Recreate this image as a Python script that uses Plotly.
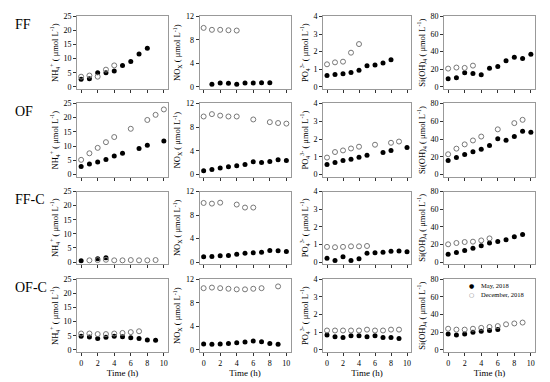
import plotly.graph_objects as go
from plotly.subplots import make_subplots

# ---------------- data ----------------
row_labels = ["FF", "OF", "FF-C", "OF-C"]
x_ticks = [0, 2, 4, 6, 8, 10]

# FF
ff_nh4_may_t = [0, 1, 2, 3, 4, 5, 6, 7, 8]
ff_nh4_may = [2.7, 2.9, 5.0, 5.0, 5.6, 7.6, 9.0, 11.7, 13.7]
ff_nh4_dec_t = [0, 1, 2, 3, 4]
ff_nh4_dec = [3.6, 4.0, 3.6, 6.1, 7.6]
ff_nox_may_t = [1, 2, 3, 4, 5, 6, 7, 8]
ff_nox_may = [0.45, 0.65, 0.6, 0.45, 0.65, 0.65, 0.7, 0.7]
ff_nox_dec_t = [0, 1, 2, 3, 4]
ff_nox_dec = [10.05, 9.72, 9.72, 9.65, 9.6]
ff_po4_may_t = [0, 1, 2, 3, 4, 5, 6, 7, 8]
ff_po4_may = [0.65, 0.7, 0.74, 0.81, 0.94, 1.2, 1.24, 1.35, 1.54]
ff_po4_dec_t = [0, 1, 2, 3, 4]
ff_po4_dec = [1.28, 1.39, 1.43, 1.94, 2.43]
ff_si_may_t = [0, 1, 2, 3, 4, 5, 6, 7, 8, 9, 10]
ff_si_may = [9.3, 10.4, 15.9, 15.2, 13.7, 21.1, 23.0, 29.6, 33.7, 32.2, 37.0]
ff_si_dec_t = [0, 1, 2, 3]
ff_si_dec = [20.7, 21.9, 21.5, 24.1]

# OF
of_nh4_may_t = [0, 1, 2, 3, 4, 5, 7, 8, 10]
of_nh4_may = [2.9, 3.7, 4.4, 5.3, 6.5, 7.5, 9.2, 10.3, 11.8]
of_nh4_dec_t = [0, 1, 2, 3, 4, 6, 8, 9, 10]
of_nh4_dec = [5.2, 7.5, 9.4, 11.4, 13.2, 16.1, 19.2, 21.0, 22.9]
of_nox_may_t = [0, 1, 2, 3, 4, 5, 6, 7, 8, 9, 10]
of_nox_may = [0.66, 0.88, 1.1, 1.33, 1.5, 1.7, 2.16, 2.05, 2.2, 2.5, 2.4]
of_nox_dec_t = [0, 1, 2, 3, 4, 6, 8, 9, 10]
of_nox_dec = [9.8, 10.2, 9.95, 9.8, 9.8, 9.3, 8.85, 8.7, 8.6]
of_po4_may_t = [0, 1, 2, 3, 4, 5, 7, 8, 10]
of_po4_may = [0.57, 0.68, 0.79, 0.87, 0.98, 1.09, 1.25, 1.36, 1.53]
of_po4_dec_t = [0, 1, 2, 3, 4, 6, 8, 9]
of_po4_dec = [0.96, 1.27, 1.36, 1.47, 1.57, 1.68, 1.79, 1.86]
of_si_may_t = [0, 1, 2, 3, 4, 5, 6, 7, 8, 9, 10]
of_si_may = [15.9, 19.2, 22.5, 25.8, 28.4, 32.8, 40.2, 38.7, 42.8, 48.7, 47.6]
of_si_dec_t = [0, 1, 2, 3, 4, 6, 8, 9]
of_si_dec = [22.9, 29.2, 34.0, 38.4, 42.8, 50.9, 57.9, 61.6]

# FF-C
ffc_nh4_may_t = [0, 2, 3]
ffc_nh4_may = [0.45, 1.15, 1.5]
ffc_nh4_dec_t = [1, 2, 3, 4, 5, 6, 7, 8, 9]
ffc_nh4_dec = [0.6, 0.7, 0.8, 0.6, 0.6, 0.7, 0.6, 0.6, 0.7]
ffc_nox_may_t = [0, 1, 2, 3, 4, 5, 6, 7, 8, 9, 10]
ffc_nox_may = [0.89, 0.95, 1.06, 1.12, 1.34, 1.5, 1.56, 1.68, 1.96, 1.9, 1.8]
ffc_nox_dec_t = [0, 1, 2, 4, 5, 6]
ffc_nox_dec = [10.05, 9.94, 10.1, 9.78, 9.27, 9.27]
ffc_po4_may_t = [0, 1, 2, 3, 4, 5, 6, 7, 8, 9, 10]
ffc_po4_may = [0.22, 0.09, 0.3, 0.09, 0.19, 0.5, 0.52, 0.56, 0.61, 0.63, 0.58]
ffc_po4_dec_t = [0, 1, 2, 3, 4, 5]
ffc_po4_dec = [0.86, 0.84, 0.86, 0.89, 0.89, 0.91]
ffc_si_may_t = [0, 1, 2, 3, 4, 5, 6, 7, 8, 9]
ffc_si_may = [8.9, 10.8, 13.0, 15.6, 18.6, 21.6, 23.4, 25.3, 28.6, 31.2]
ffc_si_dec_t = [0, 1, 2, 3, 4, 5]
ffc_si_dec = [20.1, 21.6, 22.7, 23.1, 24.5, 26.8]

# OF-C
ofc_nh4_may_t = [0, 1, 2, 3, 4, 5, 6, 7, 8, 9]
ofc_nh4_may = [4.8, 4.6, 4.0, 4.5, 4.8, 4.7, 4.3, 4.0, 3.5, 3.4]
ofc_nh4_dec_t = [0, 1, 2, 3, 4, 5, 6, 7]
ofc_nh4_dec = [5.8, 5.8, 5.6, 5.6, 5.8, 6.0, 6.3, 6.6]
ofc_nox_may_t = [0, 1, 2, 3, 4, 5, 6, 7, 8, 9]
ofc_nox_may = [1.0, 0.95, 1.0, 1.1, 1.2, 1.35, 1.5, 1.4, 1.1, 0.95]
ofc_nox_dec_t = [0, 1, 2, 3, 4, 5, 6, 7, 9]
ofc_nox_dec = [10.5, 10.6, 10.5, 10.4, 10.3, 10.3, 10.4, 10.5, 10.8]
ofc_po4_may_t = [0, 1, 2, 3, 4, 5, 6, 7, 8, 9]
ofc_po4_may = [0.85, 0.75, 0.7, 0.8, 0.8, 0.75, 0.8, 0.7, 0.7, 0.65]
ofc_po4_dec_t = [0, 1, 2, 3, 4, 5, 6, 7, 8, 9]
ofc_po4_dec = [1.1, 1.1, 1.1, 1.1, 1.1, 1.15, 1.1, 1.1, 1.15, 1.15]
ofc_si_may_t = [0, 1, 2, 3, 4, 5, 6]
ofc_si_may = [18.0, 17.0, 18.0, 20.0, 21.0, 22.0, 23.0]
ofc_si_dec_t = [0, 1, 2, 3, 4, 5, 6, 7, 8, 9]
ofc_si_dec = [24.0, 23.0, 23.0, 24.0, 25.0, 26.0, 27.0, 29.0, 30.0, 31.0]

legend_labels = ["May, 2018", "December, 2018"]

y_titles = [
    "NH<sub>4</sub><sup>+</sup> ( μmol L<sup>-1</sup>)",
    "NO<sub>X</sub> ( μmol L<sup>-1</sup>)",
    "PO<sub>4</sub><sup>3-</sup> ( μmol L<sup>-1</sup>)",
    "Si(OH)<sub>4</sub> ( μmol L<sup>-1</sup>)",
]
y_max = [25, 12, 4, 80]
y_dtick = [5, 4, 1, 20]

panels = [
    [(ff_nh4_may_t, ff_nh4_may, ff_nh4_dec_t, ff_nh4_dec),
     (ff_nox_may_t, ff_nox_may, ff_nox_dec_t, ff_nox_dec),
     (ff_po4_may_t, ff_po4_may, ff_po4_dec_t, ff_po4_dec),
     (ff_si_may_t, ff_si_may, ff_si_dec_t, ff_si_dec)],
    [(of_nh4_may_t, of_nh4_may, of_nh4_dec_t, of_nh4_dec),
     (of_nox_may_t, of_nox_may, of_nox_dec_t, of_nox_dec),
     (of_po4_may_t, of_po4_may, of_po4_dec_t, of_po4_dec),
     (of_si_may_t, of_si_may, of_si_dec_t, of_si_dec)],
    [(ffc_nh4_may_t, ffc_nh4_may, ffc_nh4_dec_t, ffc_nh4_dec),
     (ffc_nox_may_t, ffc_nox_may, ffc_nox_dec_t, ffc_nox_dec),
     (ffc_po4_may_t, ffc_po4_may, ffc_po4_dec_t, ffc_po4_dec),
     (ffc_si_may_t, ffc_si_may, ffc_si_dec_t, ffc_si_dec)],
    [(ofc_nh4_may_t, ofc_nh4_may, ofc_nh4_dec_t, ofc_nh4_dec),
     (ofc_nox_may_t, ofc_nox_may, ofc_nox_dec_t, ofc_nox_dec),
     (ofc_po4_may_t, ofc_po4_may, ofc_po4_dec_t, ofc_po4_dec),
     (ofc_si_may_t, ofc_si_may, ofc_si_dec_t, ofc_si_dec)],
]

# ---------------- layout geometry (pixels) ----------------
W, H = 550, 382
col_px = [(77, 168), (199.5, 290.5), (323, 411), (444, 535)]
row_px = [(12.7, 86.5), (101.3, 176), (191, 265), (280.5, 354.5)]
FONT = "Liberation Serif, Times New Roman, serif"
DEC_COLOR = "#777777"

fig = make_subplots(rows=4, cols=4)

for r in range(4):
    for c in range(4):
        mt, mv, dt, dv = panels[r][c]
        fig.add_trace(go.Scatter(
            x=mt, y=mv, mode="markers", name=legend_labels[0],
            marker=dict(symbol="circle", size=5, color="black"),
            showlegend=False, hoverinfo="skip"), row=r + 1, col=c + 1)
        fig.add_trace(go.Scatter(
            x=dt, y=dv, mode="markers", name=legend_labels[1],
            marker=dict(symbol="circle-open", size=5, color=DEC_COLOR,
                        line=dict(width=1)),
            showlegend=False, hoverinfo="skip"), row=r + 1, col=c + 1)

        idx = r * 4 + c + 1
        xa = "xaxis" if idx == 1 else f"xaxis{idx}"
        ya = "yaxis" if idx == 1 else f"yaxis{idx}"
        x0, x1 = col_px[c]
        y0, y1 = row_px[r]
        fig.layout[xa].update(
            domain=[x0 / W, x1 / W], range=[-0.5, 10.5],
            tickvals=x_ticks, ticktext=[str(v) for v in x_ticks],
            showticklabels=(r == 3), ticks="outside", ticklen=3,
            tickcolor="#333", tickwidth=1,
            showline=True, linecolor="#999", linewidth=1, mirror=True,
            showgrid=False, zeroline=False,
            tickfont=dict(family=FONT, size=8, color="black"),
            title=dict(text="Time (h)" if r == 3 else "",
                       font=dict(family=FONT, size=9, color="black"), standoff=2),
        )
        ym = y_max[c]
        fig.layout[ya].update(
            domain=[1 - y1 / H, 1 - y0 / H], range=[-0.03 * ym, ym],
            tickmode="linear", tick0=0, dtick=y_dtick[c],
            ticks="outside", ticklen=3, tickcolor="#333", tickwidth=1,
            showline=True, linecolor="#999", linewidth=1, mirror=True,
            showgrid=False, zeroline=False,
            tickfont=dict(family=FONT, size=8, color="black"),
            title=dict(text=y_titles[c],
                       font=dict(family=FONT, size=8.5, color="black"), standoff=3),
        )

for r, lab in enumerate(row_labels):
    fig.add_annotation(text=lab, xref="paper", yref="paper",
                       x=13 / W, y=1 - (row_px[r][0] + 8) / H,
                       xanchor="left", yanchor="middle", showarrow=False,
                       font=dict(family=FONT, size=14, color="black"))

# legend drawn as text inside the bottom-right panel
leg_items = [("●", "black", legend_labels[0], 287),
             ("○", DEC_COLOR, legend_labels[1], 296)]
for sym, col, lab, ypx in leg_items:
    fig.add_annotation(text=sym, xref="paper", yref="paper",
                       x=471 / W, y=1 - ypx / H, xanchor="center", yanchor="middle",
                       showarrow=False, font=dict(family="DejaVu Sans", size=6, color=col))
    fig.add_annotation(text=lab, xref="paper", yref="paper",
                       x=479 / W, y=1 - ypx / H, xanchor="left", yanchor="middle",
                       showarrow=False, font=dict(family=FONT, size=6.5, color="black"))

fig.update_layout(
    width=W, height=H, margin=dict(l=0, r=0, t=0, b=0),
    paper_bgcolor="white", plot_bgcolor="white",
    font=dict(family=FONT, color="black"),
    showlegend=False, hovermode=False,
)

fig.write_html("out.html", config={"displayModeBar": False, "staticPlot": True},
               post_script="document.body.style.margin='0';document.body.style.padding='0';")
